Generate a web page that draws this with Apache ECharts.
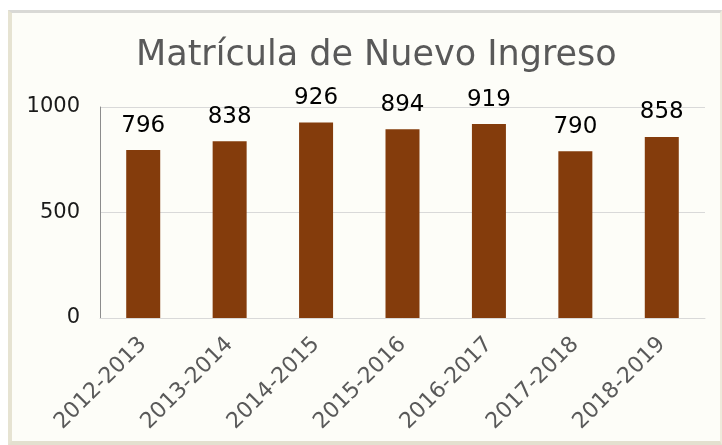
<!DOCTYPE html>
<html>
<head>
<meta charset="utf-8">
<script src="https://cdn.jsdelivr.net/npm/echarts@6/dist/echarts.min.js"></script>
<style>
    html, body { margin: 0; padding: 0; background: #ffffff; }
    #frame {
        position: absolute;
        left: 8px; top: 10px;
        width: 714px; height: 435px;
        box-sizing: border-box;
        border-top: 3px solid #d9d9d6;
        border-left: 4px solid #e6e3d2;
        border-bottom: 4px solid #e3e0cf;
        border-right: 2px solid #eeebdc;
        background: #fdfdf8;
    }
    #chart { position: absolute; left: 0; top: 0; width: 722px; height: 445px; }
</style>
</head>
<body>
<div id="frame"></div>
<div id="chart"></div>
<script>
const years = ['2012-2013', '2013-2014', '2014-2015', '2015-2016', '2016-2017', '2017-2018', '2018-2019'];
const students = [796, 838, 926, 894, 919, 790, 858];
const yTicks = [0, 500, 1000];

const font = 'DejaVu Sans, Verdana, sans-serif';
var myChart = echarts.init(document.getElementById('chart'));
const option = {
    backgroundColor: 'transparent',
    title: {
        text: 'Matrícula de Nuevo Ingreso',
        left: 131,
        top: 33,
        textStyle: {
            fontFamily: font,
            fontSize: 35,
            fontWeight: 'normal',
            color: '#595959'
        }
    },
    grid: {
        left: 100,
        right: 17,
        top: 107,
        bottom: 127
    },
    xAxis: {
        type: 'category',
        data: years,
        axisLine: { lineStyle: { color: '#d9d9d9', width: 1 } },
        axisTick: { show: false },
        axisLabel: {
            rotate: 45,
            interval: 0,
            margin: 23,
            fontFamily: font,
            fontSize: 22,
            color: '#595959'
        }
    },
    yAxis: {
        type: 'value',
        min: yTicks[0],
        max: yTicks[yTicks.length - 1],
        interval: 500,
        axisLine: { show: true, lineStyle: { color: '#8c8c8c', width: 1 } },
        axisTick: { show: false },
        splitLine: { lineStyle: { color: '#d9d9d9', width: 1 } },
        axisLabel: {
            margin: 20,
            fontFamily: font,
            fontSize: 21,
            color: '#1a1a1a',
            formatter: v => String(v)
        }
    },
    series: [
        {
            type: 'bar',
            data: students,
            barWidth: 34,
            itemStyle: { color: '#843c0c' },
            label: {
                show: true,
                position: 'top',
                distance: 13,
                fontFamily: font,
                fontSize: 23,
                color: '#000000'
            }
        }
    ]
};
myChart.setOption(option);
</script>
</body>
</html>
